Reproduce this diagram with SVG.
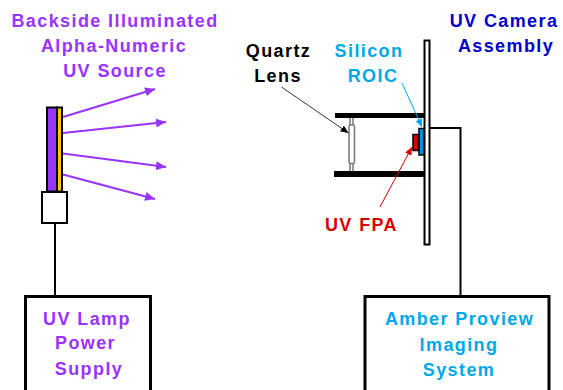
<svg xmlns="http://www.w3.org/2000/svg" width="563" height="390" viewBox="0 0 563 390">
<style>
text{font-family:"Liberation Sans",Arial,sans-serif;font-weight:bold;font-size:18px;letter-spacing:1.4px;text-anchor:middle}
.p{fill:#9933ff}.c{fill:#00a8e8}.b{fill:#0000cc}.k{fill:#000}.r{fill:#d90000}
.ray{stroke:#9933ff;stroke-width:2.200;fill:none;marker-end:url(#pa)}
.wire{stroke:#000;stroke-width:2;fill:none}
.box{fill:#fff;stroke:#000;stroke-width:3}
</style>
<defs>
<marker id="pa" markerUnits="userSpaceOnUse" markerWidth="11" markerHeight="10" refX="10" refY="4.500" orient="auto"><path d="M0 0L10 4.500L0 9z" fill="#9933ff"/></marker>
<marker id="ka" markerUnits="userSpaceOnUse" markerWidth="9" markerHeight="8" refX="8" refY="3.500" orient="auto"><path d="M0 0L8 3.500L0 7z" fill="#000"/></marker>
<marker id="ca" markerUnits="userSpaceOnUse" markerWidth="9" markerHeight="8" refX="8" refY="3.500" orient="auto"><path d="M0 0L8 3.500L0 7z" fill="#00a8e8"/></marker>
<marker id="ra" markerUnits="userSpaceOnUse" markerWidth="9" markerHeight="8" refX="8" refY="3.500" orient="auto"><path d="M0 0L8 3.500L0 7z" fill="#d90000"/></marker>
</defs>
<g id="connectors">
<path class="wire" d="M55 223V296"/>
<path class="wire" d="M430 128H460.500V296"/>
<path class="ray" d="M63 117L155 89"/>
<path class="ray" d="M63 133L166 122"/>
<path class="ray" d="M63 153.500L166 167"/>
<path class="ray" d="M63 174.500L155 199"/>
</g>
<g id="uv-source">
<rect x="47" y="107.500" width="10" height="84" fill="#9933ff" stroke="#000" stroke-width="2"/>
<rect x="57" y="107.500" width="5" height="84" fill="#ffc800" stroke="#000" stroke-width="2"/>
<rect x="42" y="192" width="25" height="31" fill="#fff" stroke="#000" stroke-width="2"/>
</g>
<g id="camera">
<rect x="424.500" y="40.500" width="5" height="204" fill="#fff" stroke="#000" stroke-width="2"/>
<rect x="335" y="113" width="89" height="5" fill="#000"/>
<rect x="334" y="171" width="90" height="6" fill="#000"/>
<path d="M350 118V171M353 118V171" stroke="#777" stroke-width="1.500" fill="none"/>
<rect x="349" y="125" width="5.500" height="38.500" rx="1.500" fill="#fff" stroke="#777" stroke-width="1.500"/>
<rect x="413" y="134.500" width="5.500" height="16" fill="#e00000" stroke="#000" stroke-width="1.500"/>
<rect x="419" y="128.500" width="5" height="26.500" fill="#0090e0" stroke="#000" stroke-width="1.500"/>
<path d="M281.500 87L348.500 133" stroke="#333" stroke-width="1" fill="none" marker-end="url(#ka)"/>
<path d="M402 83L422 127" stroke="#00a8e8" stroke-width="1" fill="none" marker-end="url(#ca)"/>
<path d="M380 207L412 147" stroke="#d90000" stroke-width="1" fill="none" marker-end="url(#ra)"/>
</g>
<g id="lamp-supply">
<rect class="box" x="25.500" y="296.500" width="125" height="100"/>
<text class="p" x="87" y="325">UV Lamp</text>
<text class="p" x="85.500" y="349">Power</text>
<text class="p" x="89" y="375">Supply</text>
</g>
<g id="proview">
<rect class="box" x="365" y="296.500" width="184" height="100"/>
<text class="c" x="459.500" y="325">Amber Proview</text>
<text class="c" x="459" y="351">Imaging</text>
<text class="c" x="459" y="376">System</text>
</g>
<g id="labels">
<text class="p" x="115" y="27">Backside Illuminated</text>
<text class="p" x="114" y="52">Alpha-Numeric</text>
<text class="p" x="115" y="77">UV Source</text>
<text class="k" x="278.500" y="57">Quartz</text>
<text class="k" x="278" y="82">Lens</text>
<text class="c" x="369" y="57">Silicon</text>
<text class="c" x="373" y="82">ROIC</text>
<text class="b" x="504" y="27">UV Camera</text>
<text class="b" x="506" y="52">Assembly</text>
<text class="r" x="361.500" y="231">UV FPA</text>
</g>
</svg>
